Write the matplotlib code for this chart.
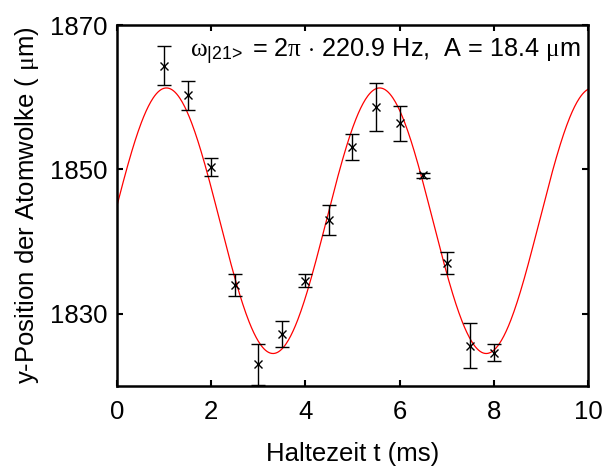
import numpy as np
import matplotlib
matplotlib.use("Agg")
import matplotlib.pyplot as plt

plt.rcParams['font.family'] = ['Liberation Sans', 'DejaVu Sans']
plt.rcParams['mathtext.fontset'] = 'custom'
plt.rcParams['mathtext.rm'] = 'Liberation Sans'
plt.rcParams['mathtext.it'] = 'Liberation Serif'
plt.rcParams['mathtext.bf'] = 'Liberation Sans:bold'

# Measured data
t_ms = [1.0, 1.5, 2.0, 2.5, 3.0, 3.5, 4.0, 4.5, 5.0, 5.5, 6.0, 6.5, 7.0, 7.5, 8.0]
y_um = [1864.4, 1860.3, 1850.4, 1834.0, 1823.0, 1827.2, 1834.6, 1843.0, 1853.1,
        1858.7, 1856.4, 1849.2, 1837.0, 1825.6, 1824.6]
y_err = [2.7, 2.0, 1.25, 1.55, 2.8, 1.85, 0.85, 2.05, 1.8, 3.3, 2.4, 0.35, 1.55, 3.15, 1.2]

# Fit parameters
freq_hz = 220.9
amp_um = 18.4
offset_um = 1842.9
t_peak_ms = 1.05

FS = 18.5

fig = plt.figure(figsize=(6.03, 4.66), dpi=100)
ax = fig.add_axes([0.194, 0.1717, 0.781, 0.7743])

tf = np.linspace(0, 10, 600)
yf = offset_um + amp_um * np.cos(2 * np.pi * freq_hz * 1e-3 * (tf - t_peak_ms))
ax.plot(tf, yf, color='red', lw=0.9, zorder=2)

ax.errorbar(t_ms, y_um, yerr=y_err, fmt='x', color='black', ms=5.5, mew=1.0,
            elinewidth=1.0, capsize=5, capthick=1.0, zorder=3)

ax.set_xlim(0, 10)
ax.set_ylim(1820, 1870)
ax.set_xticks([0, 2, 4, 6, 8, 10])
ax.set_yticks([1830, 1850, 1870])
ax.tick_params(direction='in', top=True, right=True, length=4, width=1.5,
               labelsize=FS, pad=7)
ax.tick_params(axis='x', pad=10)
for s in ax.spines.values():
    s.set_linewidth(1.8)

ax.set_xlabel('Haltezeit t (ms)', fontsize=FS, labelpad=13)
ax.set_ylabel(r'y-Position der Atomwolke ( $\mu$m)', fontsize=FS, labelpad=6)

ax.text(0.155, 0.91, r'$\omega_{\mathrm{|21}\!>}$ = 2$\pi$ $\cdot$ 220.9 Hz,  A = 18.4 $\mu$m',
        transform=ax.transAxes, fontsize=18.2, ha='left', va='baseline')

fig.savefig('out.png', dpi=100)
